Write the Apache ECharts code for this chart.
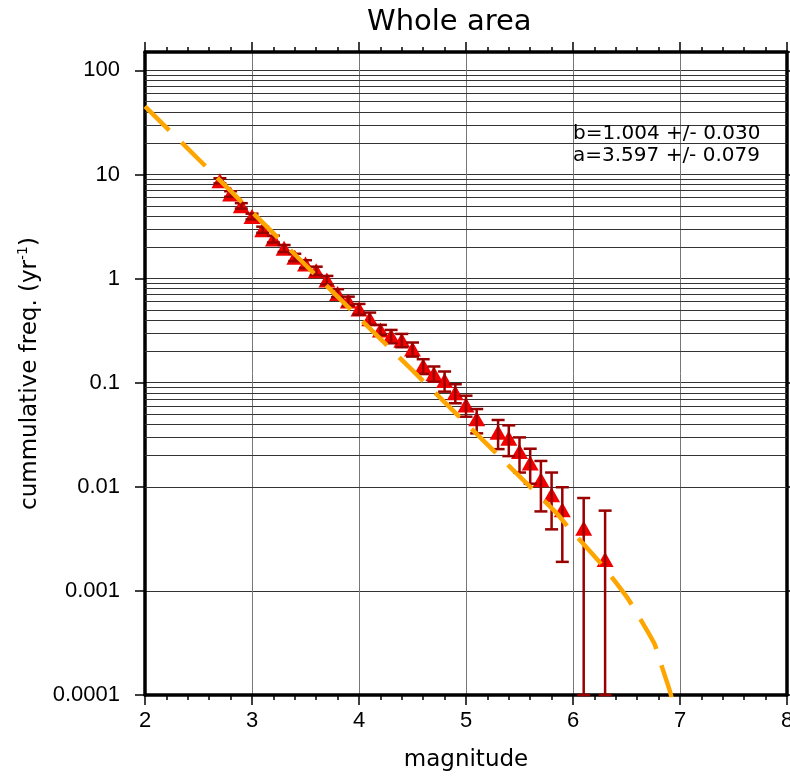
<!DOCTYPE html>
<html><head><meta charset="utf-8">
<script src="https://cdn.jsdelivr.net/npm/echarts@6/dist/echarts.min.js"></script>
<style>html,body{margin:0;padding:0;background:#fff}#c{width:790px;height:778px}</style>
</head><body><div id="c"></div>
<script>
// ---- data ----
const magnitudes = [2.7,2.8,2.9,3.0,3.1,3.2,3.3,3.4,3.5,3.6,3.7,3.8,3.9,4.0,4.1,4.2,4.3,4.4,4.5,4.6,4.7,4.8,4.9,5.0,5.1,5.3,5.4,5.5,5.6,5.7,5.8,5.9,6.1,6.3];
const freqs = [8.7,6.5,5.0,3.95,2.95,2.4,1.95,1.6,1.38,1.19,0.97,0.72,0.61,0.51,0.41,0.32,0.28,0.255,0.21,0.145,0.122,0.105,0.080,0.061,0.045,0.0334,0.0293,0.0218,0.0169,0.0117,0.0084,0.006,0.004,0.002];
const errLow = [8.2,6.1,4.7,3.7,2.75,2.22,1.8,1.47,1.26,1.08,0.88,0.662,0.55,0.45,0.359,0.288,0.239,0.219,0.178,0.121,0.102,0.082,0.0634,0.0471,0.0326,0.023,0.0197,0.0137,0.0107,0.0058,0.0039,0.0019,0,0];
const errHigh = [9.2,6.9,5.3,4.2,3.15,2.58,2.1,1.73,1.5,1.3,1.06,0.79,0.67,0.57,0.471,0.359,0.321,0.294,0.243,0.168,0.143,0.128,0.0966,0.075,0.0558,0.0438,0.0389,0.0298,0.0232,0.0177,0.0137,0.0099,0.0078,0.0059];
const fitMag  = [2.0, 2.5, 3.0, 3.5, 4.0, 4.5, 5.0, 5.5, 5.614, 5.848, 5.965, 6.184, 6.299, 6.502, 6.595, 6.760, 6.813, 6.916, 6.96];
const fitFreq = [45, 14.0, 4.36, 1.35, 0.42, 0.131, 0.0406, 0.0126, 0.00966, 0.00555, 0.00398, 0.00225, 0.00164, 0.000875, 0.000614, 0.000312, 0.000212, 0.0000993, 0.00005];
const yDecades = [0.0001, 0.001, 0.01, 0.1, 1, 10, 100];
const minorMultipliers = [2,3,4,5,6,7,8,9];
const yMin = 0.0001, yMax = 150;
const xMin = 2, xMax = 8;
const annotations = ['b=1.004 +/- 0.030', 'a=3.597 +/- 0.079'];

const minorGrid = [];
yDecades.forEach(d => minorMultipliers.forEach(m => { const v = d * m; if (v < yMax) minorGrid.push(v); }));

function fmtY(v) {
  const e = Math.round(Math.log10(v));
  return e < 0 ? Number(v).toFixed(-e) : String(Math.round(v));
}

const chart = echarts.init(document.getElementById('c'), null, {renderer: 'canvas'});
const frame = {show: true, onZero: false, lineStyle: {color: '#000', width: 3.5}};
const tick = {show: true, length: 10, inside: false, lineStyle: {color: '#000', width: 1.5}};
const minorTickX = {show: true, splitNumber: 5, length: 5, lineStyle: {color: '#000', width: 1.5}};

chart.setOption({
  animation: false,
  backgroundColor: '#fff',
  title: {text: 'Whole area', left: 362, top: 3,
    textStyle: {fontFamily: 'DejaVu Sans', fontSize: 29, fontWeight: 'normal', color: '#000'}},
  grid: {left: 145, right: 3, top: 52, bottom: 83, containLabel: false, outerBoundsMode: 'none'},
  xAxis: [
    {type: 'value', min: xMin, max: xMax, interval: 1, position: 'bottom',
     axisLine: frame, axisTick: tick, minorTick: minorTickX,
     axisLabel: {fontSize: 22, fontFamily: 'Liberation Sans', color: '#000', margin: 15, hideOverlap: false},
     splitLine: {show: true, lineStyle: {color: '#777', width: 1}},
     name: 'magnitude', nameLocation: 'middle', nameGap: 54,
     nameTextStyle: {fontSize: 23, fontFamily: 'DejaVu Sans', color: '#000'}},
    {type: 'value', min: xMin, max: xMax, interval: 1, position: 'top',
     axisLine: frame, axisTick: tick, minorTick: minorTickX,
     axisLabel: {show: false}, splitLine: {show: false}}
  ],
  yAxis: [
    {type: 'log', logBase: 10, min: yMin, max: yMax, position: 'left',
     axisLine: frame, axisTick: tick,
     axisLabel: {fontSize: 22, fontFamily: 'Liberation Sans', color: '#000', margin: 25,
       showMaxLabel: false, formatter: fmtY},
     splitLine: {show: true, lineStyle: {color: '#333', width: 1}},
     name: '{a|cummulative freq. (yr}{s|-1}{a|)}', nameLocation: 'middle', nameGap: 100, nameRotate: 90,
     nameTextStyle: {rich: {
       a: {fontSize: 23, fontFamily: 'DejaVu Sans', color: '#000', lineHeight: 28},
       s: {fontSize: 14, fontFamily: 'DejaVu Sans', color: '#000', verticalAlign: 'top', lineHeight: 28}
     }}},
    {type: 'log', logBase: 10, min: yMin, max: yMax, position: 'right',
     axisLine: frame, axisTick: tick, axisLabel: {show: false}, splitLine: {show: false}}
  ],
  graphic: annotations.map((t, i) => ({
    type: 'text', left: 573, top: 124 + i * 22, z: 10,
    style: {text: t, fontFamily: 'DejaVu Sans', fontSize: 20, fill: '#000'}
  })),
  series: [
    {type: 'line', data: [], xAxisIndex: 0, yAxisIndex: 0, silent: true, z: 1,
     markLine: {silent: true, z: 1, symbol: ['none', 'none'], label: {show: false}, animation: false,
       lineStyle: {color: '#333', width: 1, type: 'solid'},
       emphasis: {disabled: true},
       data: minorGrid.map(v => ({yAxis: v}))}},
    {type: 'scatter', z: 3, symbol: 'triangle', symbolSize: [17, 15],
     itemStyle: {color: '#f00000', opacity: 1}, emphasis: {disabled: true},
     data: magnitudes.map((m, i) => [m, freqs[i]])},
    {type: 'custom', z: 4, silent: true,
     data: magnitudes.map((m, i) => [m, errLow[i], errHigh[i]]),
     encode: {x: 0, y: [1, 2]},
     renderItem: function (params, api) {
       const x = api.value(0), lo = api.value(1), hi = api.value(2);
       const top = api.coord([x, hi]);
       const bot = api.coord([x, lo > 0 ? lo : yMin]);
       const c = 6.5;
       const st = {stroke: '#990000', lineWidth: 2.5, fill: null};
       return {type: 'group', children: [
         {type: 'line', shape: {x1: top[0], y1: top[1], x2: bot[0], y2: bot[1]}, style: st},
         {type: 'line', shape: {x1: top[0] - c, y1: top[1], x2: top[0] + c, y2: top[1]}, style: st},
         {type: 'line', shape: {x1: bot[0] - c, y1: bot[1], x2: bot[0] + c, y2: bot[1]}, style: st}
       ]};
     }},
    {type: 'line', z: 5, showSymbol: false, symbol: 'none', silent: true, clip: true, smooth: 0.2,
     lineStyle: {color: '#ffa500', width: 4.5, type: [34, 17], cap: 'butt'},
     data: fitMag.map((m, i) => [m, fitFreq[i]])}
  ]
});
</script>
</body></html>
